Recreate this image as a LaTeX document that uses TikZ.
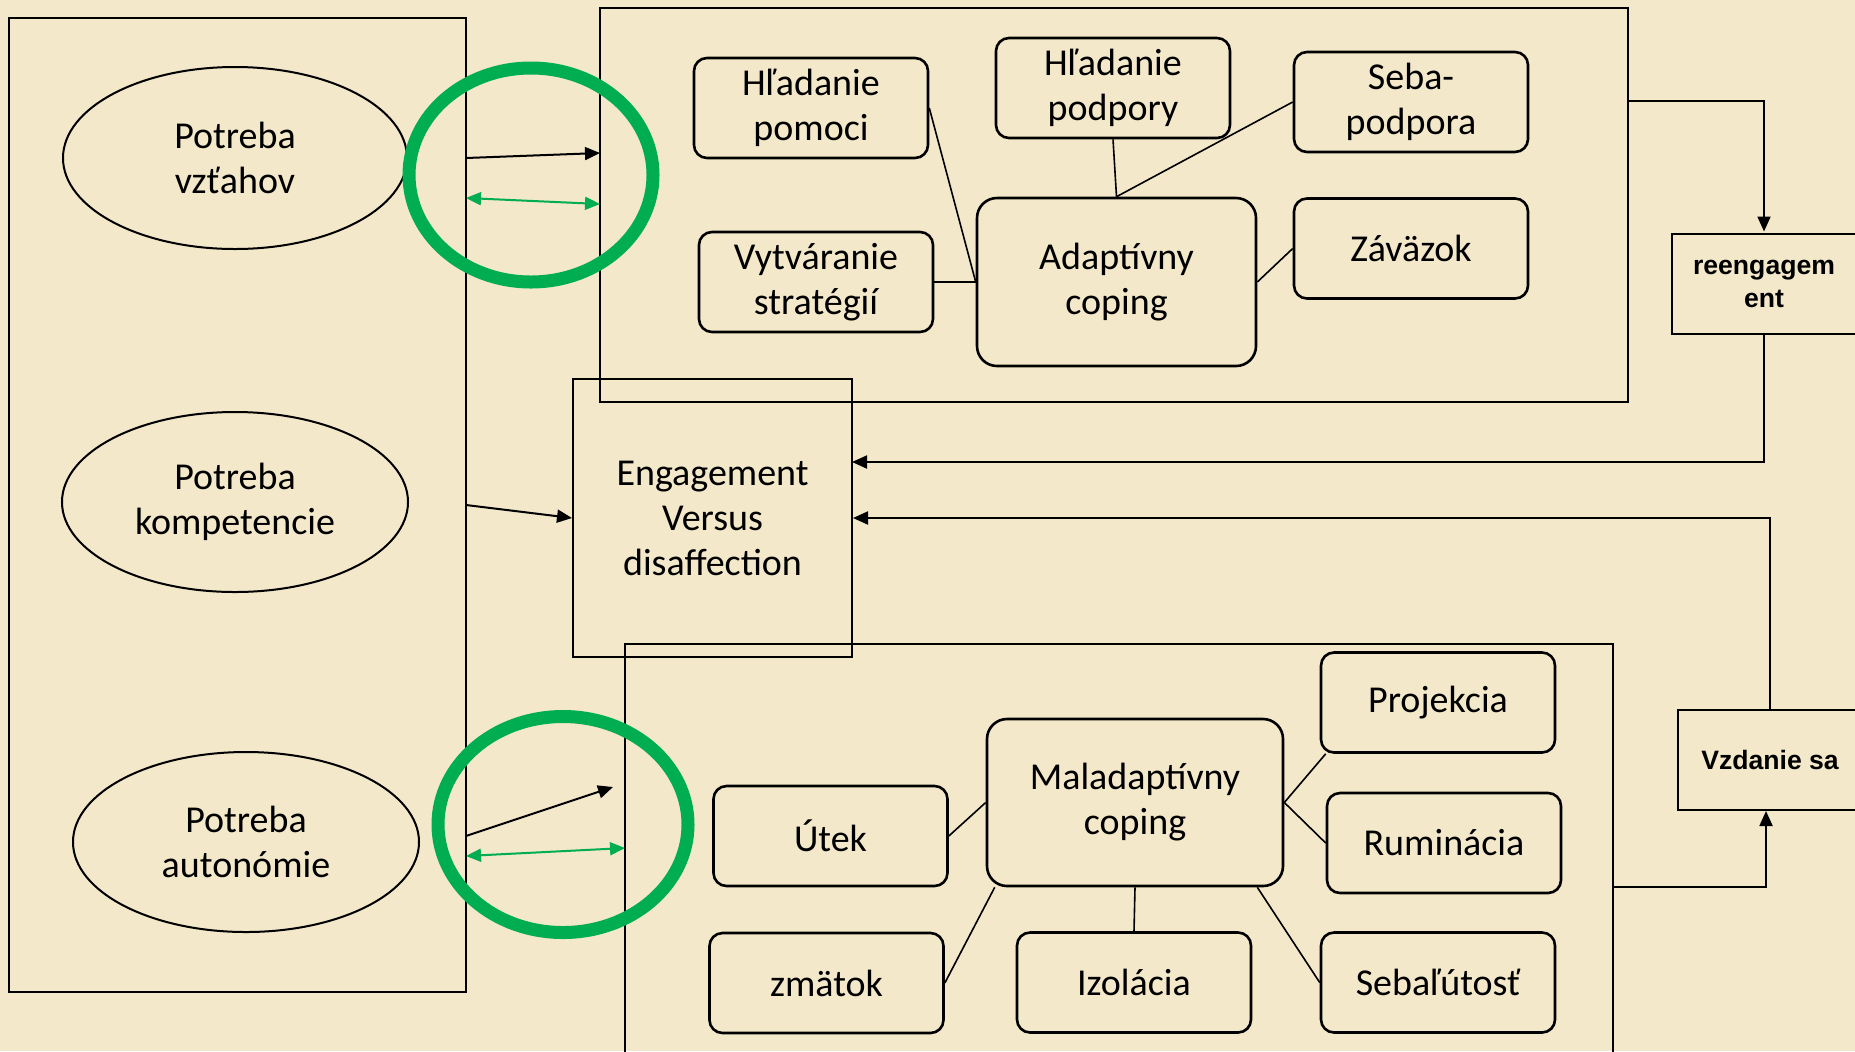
\documentclass[tikz,border=0pt]{standalone}
\usepackage{fontspec}
\setmainfont{Carlito}
\newfontfamily\arialfont{Liberation Sans}
\usetikzlibrary{arrows.meta,shapes.geometric}
\definecolor{bgc}{RGB}{243,232,202}
\definecolor{grn}{RGB}{0,173,80}
\begin{document}
\begin{tikzpicture}[x=0.5pt,y=-0.5pt,
  txt/.style={font=\fontsize{19}{22.5}\selectfont,align=center},
  rbox/.style={txt,draw,rounded corners=6.5pt,line width=1.3pt,minimum width=117pt,minimum height=50pt,inner sep=0pt},
  bigbox/.style={draw,line width=1pt,inner sep=0pt},
  oval/.style={txt,draw,ellipse,line width=1pt,inner sep=0pt},
  gring/.style={draw=grn,ellipse,line width=6.5pt,inner sep=0pt},
  sidebox/.style={draw,line width=1pt,inner sep=0pt,minimum width=92pt,minimum height=50pt,align=center,font=\arialfont\bfseries\fontsize{13.3}{16.5}\selectfont},
  link/.style={line width=0.8pt},
  arr/.style={line width=1pt,-{Triangle[length=7.5pt,width=6.5pt]}},
  garr/.style={grn,line width=1pt,{Triangle[length=7.5pt,width=6.5pt]}-{Triangle[length=7.5pt,width=6.5pt]}}
]
\useasboundingbox (0,0) rectangle (1855,1051);
\fill[bgc] (0,0) rectangle (1855,1051);
\clip (0,0) rectangle (1855,1051);

% containers
\node[bigbox,minimum width=228.5pt,minimum height=487pt] (leftbox) at (237.5,505) {};
\node[bigbox,minimum width=514pt,minimum height=197pt] (topbox) at (1114,205) {};
\node[bigbox,minimum width=494pt,minimum height=213pt] (botbox) at (1119,857) {};
\node[bigbox,txt,minimum width=139.5pt,minimum height=139pt] (eng) at (712.5,518) {Engagement\\Versus\\disaffection};

% needs
\node[oval,minimum width=172pt,minimum height=91pt] (vzt) at (235,158) {Potreba\\vzťahov};
\node[oval,minimum width=173pt,minimum height=90pt] (komp) at (235,502) {Potreba\\kompetencie};
\node[oval,minimum width=173pt,minimum height=90pt] (auto) at (246,842) {Potreba\\autonómie};

% adaptive coping
\node[rbox] (pomoci) at (811,108) {Hľadanie\\pomoci};
\node[rbox] (vytv) at (816,282) {Vytváranie\\stratégií};
\node[rbox] (podpory) at (1113,88) {Hľadanie\\podpory};
\node[rbox] (seba) at (1411,102) {Seba-\\podpora};
\node[rbox,rounded corners=10pt,minimum width=139.5pt,minimum height=84pt] (adapt) at (1116.5,282) {Adaptívny\\coping};
\node[rbox] (zav) at (1411,248.5) {Záväzok};

\draw[link] (pomoci.east) -- (adapt.west);
\draw[link] (vytv.east) -- (adapt.west);
\draw[link] (podpory.south) -- (adapt.north);
\draw[link] (seba.west) -- (adapt.north);
\draw[link] (zav.west) -- (adapt.east);

% maladaptive coping
\node[rbox,rounded corners=10pt,minimum width=148pt,minimum height=83.5pt] (mal) at (1135,802.5) {Maladaptívny\\coping};
\node[rbox] (proj) at (1438,702.5) {Projekcia};
\node[rbox] (rum) at (1444,843) {Ruminácia};
\node[rbox] (utek) at (830.5,836) {Útek};
\node[rbox] (zmat) at (826.5,983) {zmätok};
\node[rbox] (izol) at (1134,982.5) {Izolácia};
\node[rbox] (sebal) at (1438,982.5) {Sebaľútosť};

\draw[link] (utek.east) -- (mal.west);
\draw[link] (zmat.east) -- ([xshift=4.5pt]mal.south west);
\draw[link] (izol.north) -- (mal.south);
\draw[link] (sebal.west) -- ([xshift=-13.5pt]mal.south east);
\draw[link] ([xshift=3pt]proj.south west) -- (mal.east);
\draw[link] (rum.west) -- (mal.east);

% green rings
\node[gring,minimum width=122pt,minimum height=107pt] (ring1) at (531,175) {};
\node[gring,minimum width=125pt,minimum height=108pt] (ring2) at (563,824.5) {};

% arrows from needs box
\coordinate (a1s) at (466,158); \coordinate (a1e) at (600,153);
\coordinate (g1s) at (466,198); \coordinate (g1e) at (600,204);
\coordinate (a2s) at (466,505);
\coordinate (a3s) at (466,836); \coordinate (a3e) at (613,787);
\coordinate (g3s) at (466,856); \coordinate (g3e) at (625,848);
\draw[arr] (a1s) -- (a1e);
\draw[garr] (g1s) -- (g1e);
\draw[arr] (a2s) -- (eng.west);
\draw[arr] (a3s) -- (a3e);
\draw[garr] (g3s) -- (g3e);

% right side
\node[sidebox] (reeng) at (1764,284) {reengagem\\ent};
\node[sidebox] (vzd) at (1770,760) {Vzdanie sa};
\coordinate (tbout) at (1628,101);
\coordinate (e1) at (852,462);
\coordinate (bbout) at (1613,887);
\draw[arr] (tbout) -| ([yshift=0.75pt]reeng.north);
\draw[arr] (reeng.south) |- (e1);
\draw[arr] (vzd.north) |- (eng.east);
\draw[arr] (bbout) -| ([xshift=-2pt]vzd.south);
\end{tikzpicture}
\end{document}
